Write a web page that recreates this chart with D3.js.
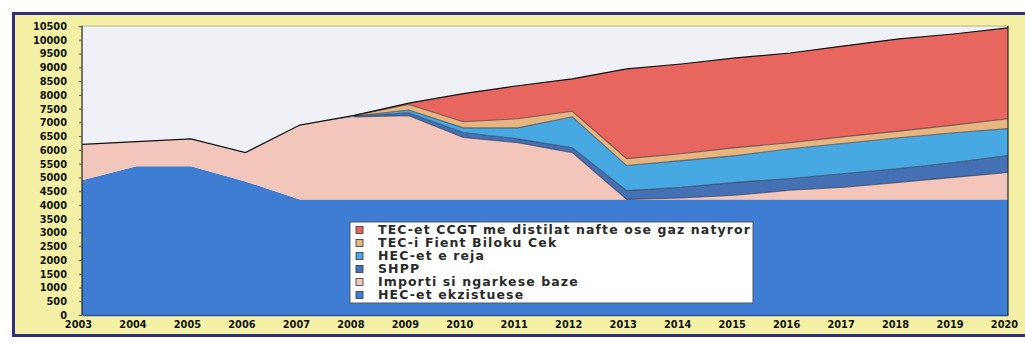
<!DOCTYPE html>
<html>
<head>
<meta charset="utf-8">
<script src="https://cdn.jsdelivr.net/npm/d3@7/dist/d3.min.js"></script>
<style>
  body { margin: 0; background: #fff; }
  svg { display: block; }
  .axis text { font-family: "DejaVu Sans", sans-serif; font-weight: bold; fill: #111; }
  .legend text { font-family: "DejaVu Sans", sans-serif; font-weight: bold; fill: #2a2a2a; }
</style>
</head>
<body>
<svg width="1025" height="343"></svg>
<script>
// years on the category axis
var years = [2003, 2004, 2005, 2006, 2007, 2008, 2009, 2010, 2011, 2012,
             2013, 2014, 2015, 2016, 2017, 2018, 2019, 2020];

// series values (MW), bottom of the stack first
var hecEkzistuese = [4900, 5400, 5400, 4850, 4200, 4200, 4200, 4200, 4200, 4200,
                     4200, 4200, 4200, 4200, 4200, 4200, 4200, 4200];
var importi       = [1300, 900, 1000, 1050, 2700, 3000, 3040, 2250, 2060, 1700,
                     0, 50, 150, 330, 440, 620, 800, 980];
var shpp          = [0, 0, 0, 0, 0, 30, 110, 180, 140, 180,
                     320, 390, 470, 430, 500, 500, 540, 610];
var hecReja       = [0, 0, 0, 0, 0, 0, 100, 170, 400, 1120,
                     910, 970, 970, 1080, 1100, 1120, 1080, 980];
var tecFier       = [0, 0, 0, 0, 0, 20, 200, 220, 330, 200,
                     250, 250, 290, 220, 240, 240, 280, 360];
var tecCcgt       = [0, 0, 0, 0, 0, 0, 50, 1020, 1200, 1180,
                     3260, 3260, 3260, 3260, 3300, 3350, 3310, 3300];

var seriesNames = ["HEC-et ekzistuese", "Importi si ngarkese baze", "SHPP",
                   "HEC-et e reja", "TEC-i Fient Biloku Cek",
                   "TEC-et CCGT me distilat nafte ose gaz natyror"];
var seriesColors = ["#3e7dd2", "#f3c6bc", "#4670b4", "#48a8e2", "#e6b680", "#e7665f"];
var yTicks = d3.range(0, 10501, 500);

var svg = d3.select("svg");

var table = years.map(function (y, i) {
    return {
        year: y,
        "HEC-et ekzistuese": hecEkzistuese[i],
        "Importi si ngarkese baze": importi[i],
        "SHPP": shpp[i],
        "HEC-et e reja": hecReja[i],
        "TEC-i Fient Biloku Cek": tecFier[i],
        "TEC-et CCGT me distilat nafte ose gaz natyror": tecCcgt[i]
    };
});

var stacked = d3.stack().keys(seriesNames)(table);

var x = d3.scaleLinear().domain([2003, 2020]).range([82, 1008]);
var y = d3.scaleLinear().domain([0, 10500]).range([315, 26]);

// outer frame
svg.append("rect")
    .attr("x", 13.5).attr("y", 13.5)
    .attr("width", 1030).attr("height", 322)
    .attr("fill", "#f4f1a6")
    .attr("stroke", "#2e317a")
    .attr("stroke-width", 3);

// plot background
svg.append("rect")
    .attr("x", x(2003)).attr("y", y(10500))
    .attr("width", x(2020) - x(2003)).attr("height", y(0) - y(10500))
    .attr("fill", "#f0f1f6");

var area = d3.area()
    .x(function (d) { return x(d.data.year); })
    .y0(function (d) { return y(d[0]); })
    .y1(function (d) { return y(d[1]); });

svg.append("g")
    .selectAll("path")
    .data(stacked)
    .enter().append("path")
    .attr("d", area)
    .attr("fill", function (d, i) { return seriesColors[i]; });

// thin dark boundaries of the new plants
var topLine = d3.line()
    .x(function (d) { return x(d.data.year); })
    .y(function (d) { return y(d[1]); });

svg.append("g")
    .selectAll("path")
    .data(stacked.slice(1, 5))
    .enter().append("path")
    .attr("d", function (d) {
        return topLine(d.filter(function (p) { return p.data.year >= 2008; }));
    })
    .attr("fill", "none")
    .attr("stroke", "#2f3040")
    .attr("stroke-opacity", 0.6)
    .attr("stroke-width", 1.1);

// total line
svg.append("path")
    .datum(stacked[stacked.length - 1])
    .attr("d", topLine)
    .attr("fill", "none")
    .attr("stroke", "#111")
    .attr("stroke-width", 1.2);

// plot borders
svg.append("line")
    .attr("x1", x(2003)).attr("x2", x(2020))
    .attr("y1", y(10500)).attr("y2", y(10500))
    .attr("stroke", "#c9c79a").attr("stroke-width", 1.5);
svg.append("line")
    .attr("x1", x(2003)).attr("x2", x(2003))
    .attr("y1", y(10500)).attr("y2", y(0))
    .attr("stroke", "#222").attr("stroke-width", 1.2);
svg.append("line")
    .attr("x1", x(2020)).attr("x2", x(2020))
    .attr("y1", y(10500)).attr("y2", y(0))
    .attr("stroke", "#222").attr("stroke-width", 1.2);

// y axis
var yAxis = svg.append("g")
    .attr("class", "axis")
    .attr("transform", "translate(" + x(2003) + ",0)")
    .call(d3.axisLeft(y).tickValues(yTicks).tickFormat(d3.format("d")).tickSize(3).tickPadding(12));
yAxis.select(".domain").remove();
yAxis.selectAll("line").attr("stroke", "#555");
yAxis.selectAll("text").style("font-size", "9.8px").attr("dy", "0.35em");

// x axis
var xAxis = svg.append("g")
    .attr("class", "axis")
    .attr("transform", "translate(0," + y(0) + ")")
    .call(d3.axisBottom(x).tickValues(years).tickFormat(d3.format("d")).tickSize(0).tickPadding(6));
xAxis.select(".domain").attr("stroke", "#2c4f9a").attr("stroke-width", 1.5);
xAxis.selectAll("text").style("font-size", "9.8px").attr("dx", "-4");

// legend
var legend = svg.append("g").attr("class", "legend");
legend.append("rect")
    .attr("x", 350).attr("y", 222)
    .attr("width", 403).attr("height", 81)
    .attr("fill", "#ffffff")
    .attr("stroke", "#556")
    .attr("stroke-width", 1);

var legendItems = legend.selectAll("g.item")
    .data(seriesNames.slice().reverse())
    .enter().append("g")
    .attr("class", "item")
    .attr("transform", function (d, i) { return "translate(356," + (230 + i * 13) + ")"; });

legendItems.append("rect")
    .attr("x", 0).attr("y", -3.5)
    .attr("width", 7).attr("height", 7)
    .attr("fill", function (d) { return seriesColors[seriesNames.indexOf(d)]; })
    .attr("stroke", "#333").attr("stroke-width", 0.8);

legendItems.append("text")
    .attr("x", 22).attr("y", 0)
    .attr("dy", "0.35em")
    .style("font-size", "12.5px")
    .style("letter-spacing", "1.1px")
    .text(function (d) { return d; });
</script>
</body>
</html>
